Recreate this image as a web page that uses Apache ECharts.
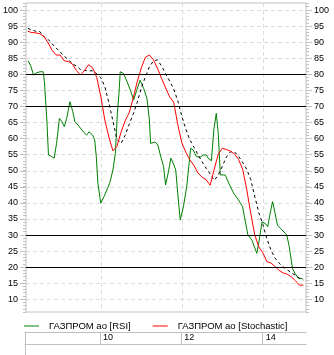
<!DOCTYPE html>
<html>
<head>
<meta charset="utf-8">
<script src="https://cdn.jsdelivr.net/npm/echarts@6/dist/echarts.min.js"></script>
<style>
  html, body { margin: 0; padding: 0; background: #fff; }
  #chart { width: 334px; height: 355px; }
</style>
</head>
<body>
<div id="chart"></div>
<script>
// Day ticks shown in the date strip
const dayTicks = [10, 12, 14];
// Oscillator levels drawn as solid reference lines
const levels = [80, 70, 30, 20];
// Value-axis labels
const valueTicks = [10, 15, 20, 25, 30, 35, 40, 45, 50, 55, 60, 65, 70, 75, 80, 85, 90, 95, 100];

// Sampling of the smooth oscillator lines: first day and step (days)
const sampleStart = 8.2;
const sampleStep = 0.1;

// Stochastic (red)
const stoch = [
  93.4, 93.0, 92.9, 92.6, 91.8, 89.8, 87.5, 86.0, 86.0, 84.2,
  84.0, 83.2, 81.2, 79.8, 81.2, 83.0, 82.0, 79.1, 73.2, 65.8,
  60.5, 56.2, 57.6, 62.0, 65.5, 68.0, 72.6, 77.7, 82.0, 85.3,
  86.0, 84.5, 81.9, 78.7, 75.8, 73.0, 71.3, 64.4, 58.7, 55.7,
  53.4, 51.6, 49.3, 48.0, 47.2, 45.5, 50.5, 55.2, 57.0, 56.6,
  56.1, 55.2, 53.5, 50.5, 44.3, 36.8, 30.0, 26.3, 24.5, 21.7,
  21.3, 20.2, 19.0, 18.2, 17.8, 17.0, 15.8, 14.4, 14.4
];

// Signal line (black dashed)
const signal = [
  94.3, 93.8, 93.4, 93.3, 91.6, 90.9, 89.5, 88.2, 86.9, 85.6,
  84.6, 83.3, 82.6, 81.5, 81.2, 81.1, 81.1, 80.2, 79.0, 76.2,
  71.2, 65.5, 59.8, 58.5, 61.0, 64.4, 67.6, 71.3, 75.7, 79.2,
  82.3, 84.2, 84.5, 82.6, 80.2, 77.9, 75.4, 71.8, 67.0, 62.9,
  59.6, 57.3, 55.0, 52.8, 50.8, 49.0, 47.0, 48.7, 51.4, 54.3,
  55.9, 55.9, 54.5, 52.6, 50.5, 47.3, 42.0, 36.9, 33.3, 28.8,
  25.3, 22.8, 21.3, 20.1, 19.2, 18.3, 17.5, 16.6, 16.0
];

// RSI (green): [day, value]
const rsi = [
  [8.21, 84.2], [8.28, 82.4], [8.34, 79.8], [8.42, 80.5], [8.50, 80.8],
  [8.58, 80.8], [8.61, 77.7], [8.67, 65.8], [8.71, 54.9], [8.79, 54.4],
  [8.85, 53.9], [8.91, 58.5], [8.98, 66.3], [9.04, 65.3], [9.10, 63.7],
  [9.16, 66.3], [9.24, 71.5], [9.31, 68.4], [9.36, 65.3], [9.44, 64.2],
  [9.57, 62.1], [9.65, 61.1], [9.71, 62.1], [9.80, 61.1], [9.85, 59.6],
  [9.89, 54.4], [9.93, 46.1], [10.00, 39.9], [10.10, 42.5], [10.22, 46.1],
  [10.30, 50.2], [10.36, 55.4], [10.41, 67.9], [10.45, 74.1], [10.48, 80.8],
  [10.56, 80.3], [10.65, 77.7], [10.73, 75.1], [10.81, 72.0], [10.89, 75.1],
  [10.97, 78.2], [11.06, 75.6], [11.14, 72.5], [11.20, 65.8], [11.23, 58.5],
  [11.34, 59.0], [11.41, 58.0], [11.46, 55.4], [11.55, 51.3], [11.60, 45.6],
  [11.67, 49.7], [11.73, 53.9], [11.79, 52.3], [11.85, 50.2], [11.90, 43.0],
  [11.96, 34.7], [12.04, 38.8], [12.12, 45.0], [12.18, 52.3], [12.22, 57.0],
  [12.28, 56.5], [12.36, 54.4], [12.45, 54.2], [12.53, 54.9], [12.61, 54.9],
  [12.65, 53.9], [12.73, 53.1], [12.79, 62.7], [12.85, 67.9], [12.90, 61.6],
  [12.95, 48.7], [13.07, 48.7], [13.16, 46.1], [13.28, 43.0], [13.40, 40.9],
  [13.50, 38.8], [13.56, 34.7], [13.63, 30.0], [13.73, 28.4], [13.85, 24.3],
  [13.91, 28.4], [13.98, 34.1], [14.06, 33.6], [14.12, 32.6], [14.18, 36.8],
  [14.24, 40.4], [14.30, 36.8], [14.36, 33.1], [14.47, 31.6], [14.59, 30.0],
  [14.65, 26.4], [14.70, 22.2], [14.73, 19.6], [14.79, 18.1], [14.88, 16.5],
  [14.98, 16.5]
];

const dayOf = (i) => +(sampleStart + i * sampleStep).toFixed(2);
const stochData = stoch.map((v, i) => [dayOf(i), v]);
const signalData = signal.map((v, i) => [dayOf(i), v]);

const FONT = "'Liberation Sans', Arial, sans-serif";
const AXIS_GREY = '#c0c0c0';
const GRID_GREY = '#dcdcdc';
const X_MIN = 8.156, X_MAX = 15.064;
const Y_MIN = 6.05, Y_MAX = 102.2;

function valueAxis(pos, withLabels) {
  return {
    type: 'value', gridIndex: 0, position: pos, min: Y_MIN, max: Y_MAX,
    axisLine: { show: false },
    axisTick: withLabels
      ? { show: true, length: 6, customValues: valueTicks, lineStyle: { color: AXIS_GREY } }
      : { show: true, length: 3, lineStyle: { color: AXIS_GREY } },
    interval: withLabels ? undefined : 1,
    axisLabel: withLabels
      ? { show: true, customValues: valueTicks, margin: 8, color: '#000', fontSize: 9, fontFamily: FONT }
      : { show: false },
    splitLine: withLabels && pos === 'left'
      ? { show: true, lineStyle: { color: GRID_GREY, type: [4, 3] } }
      : { show: false }
  };
}

const chart = echarts.init(document.getElementById('chart'), null, { renderer: 'canvas' });
chart.setOption({
  animation: false,
  backgroundColor: '#fff',
  grid: [
    { left: 25, top: 3, width: 281, height: 309, show: true, borderColor: AXIS_GREY, borderWidth: 1, backgroundColor: '#fff' },
    { left: 25, top: 332, width: 281, height: 23, show: false }
  ],
  legend: {
    left: 19, top: 316, width: 315, orient: 'horizontal',
    icon: 'rect', itemWidth: 15, itemHeight: 1, itemGap: 22,
    textStyle: { color: '#000', fontSize: 9.5, fontFamily: FONT, padding: [0, 0, 0, 5] },
    data: ['ГАЗПРОМ ао [RSI]', 'ГАЗПРОМ ао [Stochastic]']
  },
  xAxis: [
    {
      type: 'value', gridIndex: 0, min: X_MIN, max: X_MAX,
      axisLine: { show: false, onZero: false }, axisLabel: { show: false },
      axisTick: { show: false, customValues: dayTicks },
      splitLine: { show: true, lineStyle: { color: GRID_GREY, type: [4, 3] } }
    },
    {
      type: 'value', gridIndex: 1, position: 'top', min: X_MIN, max: X_MAX,
      axisLine: { show: true, onZero: false, lineStyle: { color: AXIS_GREY } },
      axisTick: { show: true, inside: true, length: 12, customValues: dayTicks, lineStyle: { color: AXIS_GREY } },
      axisLabel: { show: true, inside: true, customValues: dayTicks, margin: 6, align: 'left', verticalAlign: 'middle',
        padding: [0, 0, 0, 3], color: '#000', fontSize: 9, fontFamily: FONT },
      splitLine: { show: false }
    },
    {
      type: 'value', gridIndex: 1, position: 'bottom', offset: -11, min: X_MIN, max: X_MAX,
      axisLine: { show: true, onZero: false, lineStyle: { color: AXIS_GREY } },
      axisTick: { show: false }, axisLabel: { show: false }, splitLine: { show: false }
    }
  ],
  yAxis: [
    valueAxis('left', true),
    valueAxis('left', false),
    valueAxis('right', true),
    valueAxis('right', false),
    {
      type: 'value', gridIndex: 1, min: 0, max: 1, position: 'left',
      axisLine: { show: true, onZero: false, lineStyle: { color: AXIS_GREY } },
      axisTick: { show: false }, axisLabel: { show: false }, splitLine: { show: false }
    }
  ],
  series: [
    {
      name: 'ГАЗПРОМ ао [RSI]', type: 'line', xAxisIndex: 0, yAxisIndex: 0,
      data: rsi, symbol: 'none', color: '#008000',
      lineStyle: { color: '#008000', width: 1 }, z: 2,
      markLine: {
        silent: true, symbol: 'none', label: { show: false },
        lineStyle: { color: '#000', width: 1, type: 'solid' },
        data: levels.map((v) => ({ yAxis: v }))
      }
    },
    {
      name: 'Сигнальная', type: 'line', xAxisIndex: 0, yAxisIndex: 0,
      data: signalData, symbol: 'none', color: '#000',
      lineStyle: { color: '#000', width: 1, type: [3, 3] }, z: 3
    },
    {
      name: 'ГАЗПРОМ ао [Stochastic]', type: 'line', xAxisIndex: 0, yAxisIndex: 0,
      data: stochData, symbol: 'none', color: '#ff0000',
      lineStyle: { color: '#ff0000', width: 1 }, z: 4
    }
  ]
});
</script>
</body>
</html>
